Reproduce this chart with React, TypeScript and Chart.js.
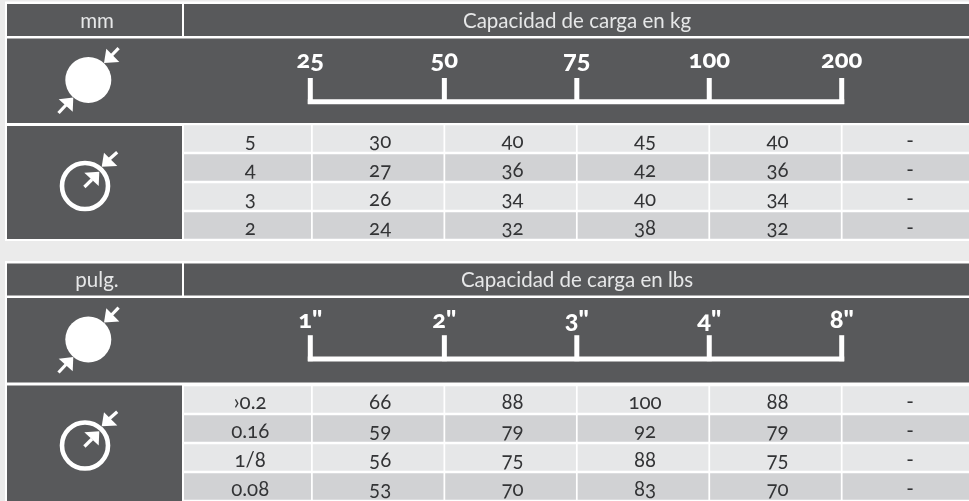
import React, { useEffect, useRef } from "react";
import { Chart, registerables } from "chart.js";

Chart.register(...registerables);

// ---- data ----
const columnNames = ["d", "25", "50", "75", "100", "200"];
const kgTicks = ["25", "50", "75", "100", "200"];
const lbsTicks = ['1"', '2"', '3"', '4"', '8"'];
const mmDiameters = ["5", "4", "3", "2"];
const inchDiameters = ["\u203A0.2", "0.16", "1/8", "0.08"];
const kg25 = ["30", "27", "26", "24"];
const kg50 = ["40", "36", "34", "32"];
const kg75 = ["45", "42", "40", "38"];
const kg100 = ["40", "36", "34", "32"];
const kg200 = ["-", "-", "-", "-"];
const lbs1 = ["66", "59", "56", "53"];
const lbs2 = ["88", "79", "75", "70"];
const lbs3 = ["100", "92", "88", "83"];
const lbs4 = ["88", "79", "75", "70"];
const lbs8 = ["-", "-", "-", "-"];
const unitLabels = ["mm", "pulg."];
const titles = ["Capacidad de carga en kg", "Capacidad de carga en lbs"];

// rows of the y scale: upper table, five slots taken by the lower table's head, lower table
const spacer = ["", "", "", "", ""];
const rowLabels = [...mmDiameters, ...spacer, ...inchDiameters];
const tableColumns = [
  [mmDiameters, kg25, kg50, kg75, kg100, kg200],
  [inchDiameters, lbs1, lbs2, lbs3, lbs4, lbs8],
];
const cellText = (col: number) => [
  ...tableColumns[0][col],
  ...spacer.map(() => null),
  ...tableColumns[1][col],
];

// ---- styles and layout of the drawing (not data) ----
const DARK = "#58595b";
const LIGHT = "#e6e7e8";
const MID = "#d1d2d4";
const PAGE = "#ebebeb";
const WHITE = "#ffffff";
const FONT = "Lato";
const TABLE_OFFSET = 259.5;

function arrow(ctx: CanvasRenderingContext2D, pts: number[][], tail: number[][]) {
  ctx.beginPath();
  ctx.moveTo(pts[0][0], pts[0][1]);
  ctx.lineTo(pts[1][0], pts[1][1]);
  ctx.lineTo(pts[2][0], pts[2][1]);
  ctx.closePath();
  ctx.fill();
  ctx.beginPath();
  ctx.moveTo(tail[0][0], tail[0][1]);
  ctx.lineTo(tail[1][0], tail[1][1]);
  ctx.lineWidth = 3.2;
  ctx.stroke();
}

const tablePlugin = {
  id: "tablePlugin",
  beforeDatasetsDraw(chart: any) {
    const { ctx, width } = chart;
    ctx.save();
    ctx.fillStyle = PAGE;
    ctx.fillRect(0, 0, width, chart.height);
    [0, 1].forEach((t) => {
      const o = t * TABLE_OFFSET;
      const bottom = t === 0 ? 241 : 502;
      ctx.fillStyle = WHITE;
      ctx.fillRect(5, 1.5 + o, width, bottom - 1.5 - o);
      ctx.fillStyle = DARK;
      ctx.fillRect(7, 4 + o, 175, 32);
      ctx.fillRect(184, 4 + o, width, 32);
      ctx.fillRect(7, 38.5 + o, width, 84.5);
    });
    ctx.restore();
  },
  afterDatasetsDraw(chart: any) {
    const { ctx, width } = chart;
    const x = chart.scales.x;
    const y = chart.scales.y;
    ctx.save();
    ctx.textAlign = "center";
    ctx.textBaseline = "middle";

    [0, 1].forEach((t) => {
      const o = t * TABLE_OFFSET;
      // side panel beside the value rows
      ctx.fillStyle = WHITE;
      ctx.fillRect(5, 124 + o, 179, (t === 0 ? 241 : 502) - 124 - o);
      ctx.fillStyle = DARK;
      ctx.fillRect(7, 126 + o, 175, (t === 0 ? 239 : 501) - 126 - o);

      // head row
      ctx.fillStyle = "#e6e7e8";
      ctx.font = `400 20.5px ${FONT}`;
      ctx.fillText(unitLabels[t], 97, 21 + o);
      ctx.fillText(titles[t], 577, 21 + o);

      // bracket with its scale ticks
      const edges = [1, 2, 3, 4, 5].map((v) => x.getPixelForValue(v));
      const bo = o - t * 2.3;
      ctx.fillStyle = WHITE;
      ctx.strokeStyle = WHITE;
      ctx.lineWidth = 5;
      ctx.lineCap = "butt";
      const ticks = edges.map((px, i) => (i === 0 ? px - 1.6 : px));
      ctx.beginPath();
      ctx.moveTo(ticks[0] - 2.5, 101.8 + bo);
      ctx.lineTo(ticks[4] + 2.5, 101.8 + bo);
      ctx.stroke();
      ticks.forEach((px) => {
        ctx.beginPath();
        ctx.moveTo(px, 78 + bo);
        ctx.lineTo(px, 104 + bo);
        ctx.stroke();
      });
      ctx.font = `900 25.5px ${FONT}`;
      const labels = t === 0 ? kgTicks : lbsTicks;
      ticks.forEach((px, i) => ctx.fillText(labels[i], px, 60 + o));

      // filled round part and arrows
      ctx.fillStyle = WHITE;
      ctx.strokeStyle = WHITE;
      ctx.beginPath();
      ctx.arc(88.3, 80 + o, 23, 0, Math.PI * 2);
      ctx.fill();
      arrow(ctx, [[104, 63 + o], [106.3, 48.7 + o], [119.3, 62 + o]], [[111, 56 + o], [118.6, 48.2 + o]]);
      arrow(ctx, [[73.3, 97.5 + o], [58.7, 99.3 + o], [72.7, 111.7 + o]], [[66, 105 + o], [58.5, 113 + o]]);

      // ring and arrows
      ctx.beginPath();
      ctx.arc(85, 186 + o, 23, 0, Math.PI * 2);
      ctx.lineWidth = 4.6;
      ctx.stroke();
      arrow(ctx, [[101.7, 166.7 + o], [104, 152.7 + o], [117.3, 166 + o]], [[109, 159.5 + o], [117.2, 152.2 + o]]);
      arrow(ctx, [[99.3, 171.7 + o], [84.3, 172.7 + o], [98.7, 186 + o]], [[92, 179.5 + o], [84.4, 187 + o]]);
    });

    // cell values, placed through the library's scales
    ctx.fillStyle = "#333436";
    ctx.font = `400 20.5px ${FONT}`;
    chart.data.datasets.forEach((ds: any, col: number) => {
      ds.cellText.forEach((txt: string | null, row: number) => {
        if (txt == null) return;
        const cx = x.getPixelForValue(col + 0.5) + (col === 0 ? 4.5 : 2);
        ctx.fillText(txt, cx, y.getPixelForValue(row) + 3);
      });
    });
    ctx.restore();
    void width;
  },
};

export default function App() {
  const ref = useRef<HTMLCanvasElement | null>(null);

  useEffect(() => {
    document.body.style.margin = "0";
    document.body.style.overflow = "hidden";
    const canvas = ref.current!;
    canvas.style.fontFeatureSettings = '"onum"';
    (canvas.style as any).fontVariantNumeric = "oldstyle-nums";
    const chart = new Chart(canvas, {
      type: "bar",
      data: {
        labels: rowLabels,
        datasets: columnNames.map((name, col) => ({
          label: name,
          cellText: cellText(col),
          data: cellText(col).map((t) => (t == null ? null : 1)),
          backgroundColor: rowLabels.map((_, r) => ((r > 8 ? r - 9 : r) % 2 === 0 ? LIGHT : MID)),
          borderColor: WHITE,
          borderWidth: { left: 1.2, right: 1.2, top: 0, bottom: 0 },
          borderSkipped: false,
          barThickness: 26.5,
        })) as any,
      },
      options: {
        indexAxis: "y",
        responsive: false,
        animation: false,
        events: [],
        layout: { padding: { left: 179.45, right: 0, top: 124, bottom: 0 } },
        plugins: { legend: { display: false }, tooltip: { enabled: false } },
        scales: {
          x: { type: "linear", stacked: true, min: 0, max: 5.961, display: false },
          y: { type: "category", stacked: true, display: false },
        },
      },
      plugins: [tablePlugin],
    } as any);
    return () => chart.destroy();
  }, []);

  return <canvas ref={ref} width={969} height={501} style={{ display: "block" }} />;
}
